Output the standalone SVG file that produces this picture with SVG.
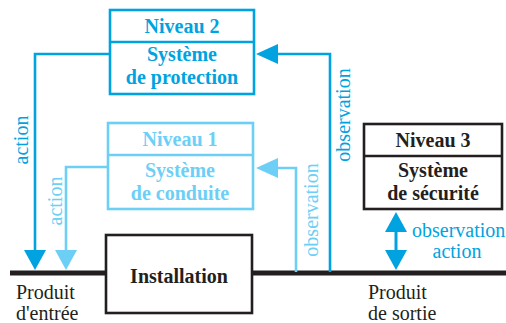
<svg xmlns="http://www.w3.org/2000/svg" width="506" height="323" viewBox="0 0 506 323" font-size="20">
<style>
text{font-family:"Liberation Serif",Tinos,"Times New Roman","DejaVu Serif",serif}
.b{font-weight:bold}
.m{text-anchor:middle}
.dk{fill:#00a3e0}
.lt{fill:#6dcff6}
.bk{fill:#231f20}
.box{fill:#fff;stroke-width:2.6}
.ln{fill:none;stroke-width:2.6}
</style>
<rect width="506" height="323" fill="#fff"/>
<g id="connectors">
<line x1="10" y1="273" x2="506" y2="273" stroke="#231f20" stroke-width="5"/>
<polyline class="ln" stroke="#00a3e0" points="110,54 35,54 35,252"/>
<polygon class="dk" points="24,250 46,250 35,270"/>
<polyline class="ln" stroke="#6dcff6" points="108,167 66,167 66,252"/>
<polygon class="lt" points="55,250 77,250 66,270"/>
<polyline class="ln" stroke="#00a3e0" points="330,272 330,54 276,54"/>
<polygon class="dk" points="256,54 278,44 278,64"/>
<polyline class="ln" stroke="#6dcff6" points="296,272 296,168 276,168"/>
<polygon class="lt" points="256,168 278,158 278,178"/>
<line x1="396" y1="230" x2="396" y2="252" stroke="#00a3e0" stroke-width="3"/>
<polygon class="dk" points="396,212 407,232 385,232"/>
<polygon class="dk" points="385,250 407,250 396,270"/>
<text class="dk m" transform="translate(28,140) rotate(-90)">action</text>
<text class="lt m" transform="translate(62,201) rotate(-90)">action</text>
<text class="dk m" transform="translate(350,115) rotate(-90)">observation</text>
<text class="lt m" transform="translate(318,210) rotate(-90)">observation</text>
<text class="dk" x="412" y="237">observation</text>
<text class="dk m" x="457" y="258">action</text>
</g>
<g id="niveau2">
<rect class="box" x="110" y="10" width="144" height="84" stroke="#00a3e0"/>
<line x1="110" y1="42" x2="254" y2="42" stroke="#00a3e0" stroke-width="2.6"/>
<text class="b m dk" x="182" y="33">Niveau 2</text>
<text class="b m dk" x="182" y="61">Système</text>
<text class="b m dk" x="182" y="84">de protection</text>
</g>
<g id="niveau1">
<rect class="box" x="108" y="123" width="145" height="86" stroke="#6dcff6"/>
<line x1="108" y1="155" x2="253" y2="155" stroke="#6dcff6" stroke-width="2.6"/>
<text class="b m lt" x="180" y="146">Niveau 1</text>
<text class="b m lt" x="180" y="177">Système</text>
<text class="b m lt" x="180" y="200">de conduite</text>
</g>
<g id="niveau3">
<rect class="box" x="364" y="124" width="138" height="85" stroke="#231f20"/>
<line x1="364" y1="156" x2="502" y2="156" stroke="#231f20" stroke-width="2.6"/>
<text class="b m bk" x="433" y="147">Niveau 3</text>
<text class="b m bk" x="433" y="177">Système</text>
<text class="b m bk" x="433" y="200">de sécurité</text>
</g>
<g id="installation">
<rect class="box" x="106" y="235" width="146" height="78" stroke="#231f20" stroke-width="3"/>
<text class="b m bk" x="179" y="283">Installation</text>
</g>
<g id="labels">
<text class="bk" x="16" y="299">Produit</text>
<text class="bk" x="16" y="320">d'entrée</text>
<text class="bk" x="368" y="299">Produit</text>
<text class="bk" x="368" y="320">de sortie</text>
</g>
</svg>
